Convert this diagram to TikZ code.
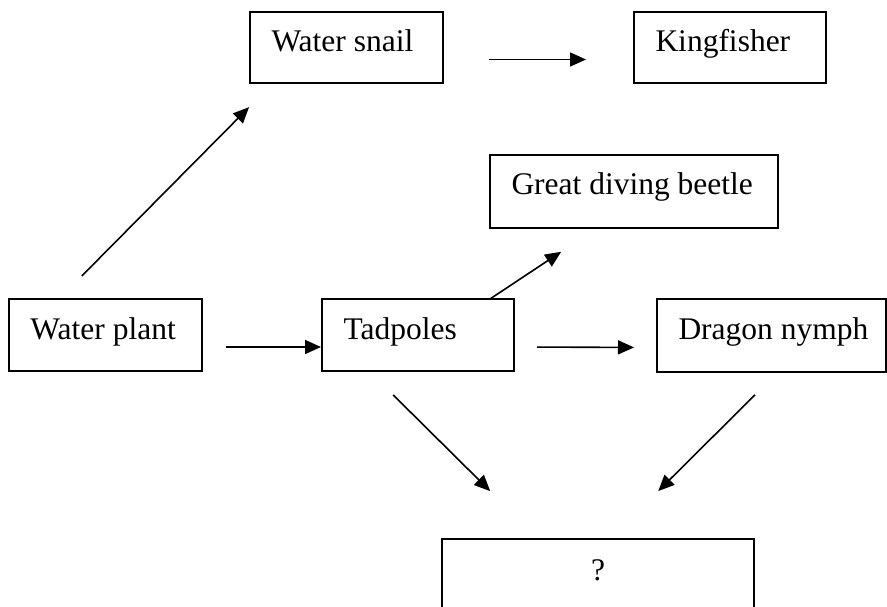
\documentclass[tikz,border=0pt]{standalone}
\usepackage{fontspec}
\setmainfont{Liberation Serif}
\usetikzlibrary{arrows.meta}

\begin{document}
\begin{tikzpicture}[x=1pt,y=1pt,
    box/.style={draw, line width=2pt, anchor=north west, outer sep=0pt,
      inner xsep=21.5pt, inner ysep=0pt, text height=40pt, text depth=32pt,
      align=flush left, font=\fontsize{31.5}{36}\selectfont},
    arr/.style={line width=1.6pt, -{Triangle[length=16pt,width=14pt]}}]
  \useasboundingbox (0,0) rectangle (887,-607);
  \clip (0,0) rectangle (887,-607);

  % boxes
  \node[box, text width=150pt] (plant) at (9,-299) {\mbox{Water plant}};
  \node[box, text width=149pt] (tad) at (322,-299) {\mbox{Tadpoles}};
  \node[box, text width=186pt, text depth=33pt] (dragon) at (657,-299) {\mbox{Dragon nymph}};
  \node[box, text width=150pt, text depth=31pt] (snail) at (250,-12) {\mbox{Water snail}};
  \node[box, text width=149pt, text depth=31pt] (king) at (634,-12) {\mbox{Kingfisher}};
  \node[box, text width=245pt, text depth=33pt] (gdb) at (490,-155) {\mbox{Great diving beetle}};
  \node[box, text width=269pt, text height=41pt, align=center] (q) at (442,-539) {?};

  % arrows
  \draw[arr, shorten <=32.5pt, shorten >=34pt] ([xshift=50pt]plant.north west) -- ([xshift=23pt]snail.south west);
  \draw[arr, shorten <=46pt, shorten >=48pt] ([yshift=-12pt]snail.east) -- ([yshift=-12pt]king.west);
  \draw[arr, shorten <=24pt, shorten >=1pt] ([yshift=-12pt]plant.east) -- ([yshift=-12pt]tad.west);
  \draw[arr, shorten <=23pt, shorten >=23pt] ([yshift=-12pt]tad.east) -- ([yshift=-12pt]dragon.west);
  \draw[arr, shorten >=43pt] ([xshift=-24pt]tad.north east) -- ([xshift=107pt]gdb.south west);
  \draw[arr, shorten <=34pt, shorten >=68pt] ([xshift=47pt]tad.south west) -- ([xshift=96.5pt]q.north west);
  \draw[arr, shorten <=32.5pt, shorten >=68pt] ([xshift=121pt]dragon.south west) -- ([xshift=168pt]q.north west);
\end{tikzpicture}
\end{document}
